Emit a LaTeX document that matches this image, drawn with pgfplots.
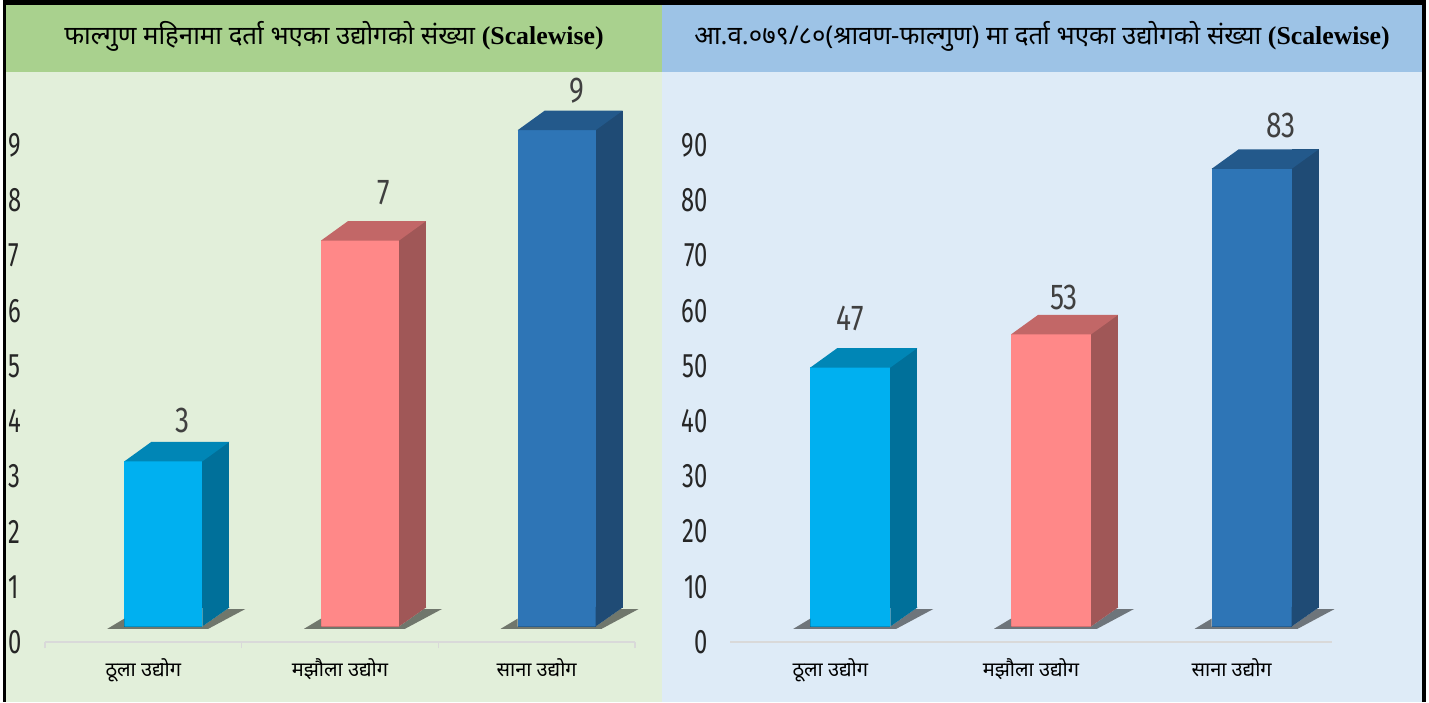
\documentclass[border=0pt]{standalone}
\usepackage{fontspec}
\usepackage{pgfplots}
\usepackage{pgfplotstable}
\pgfplotsset{compat=1.18}
\newfontfamily\devfont[Script=Devanagari]{Noto Sans}
\newfontfamily\latfont{Liberation Serif}
\newfontfamily\numfont[FakeStretch=0.7]{Fira Sans}
\newfontfamily\labfont[FakeStretch=0.78]{Fira Sans}
\definecolor{lbg}{HTML}{E2EFDA}
\definecolor{ltit}{HTML}{A9D18E}
\definecolor{rbg}{HTML}{DEEBF7}
\definecolor{rtit}{HTML}{9DC3E6}
\definecolor{axgray}{HTML}{D9D9D9}
\definecolor{tickc}{HTML}{262626}
\definecolor{labc}{HTML}{404040}
\definecolor{cAf}{HTML}{00B0F0}
\definecolor{cAs}{HTML}{00709A}
\definecolor{cAt}{HTML}{0086B6}
\definecolor{cBf}{HTML}{FF8888}
\definecolor{cBs}{HTML}{A05757}
\definecolor{cBt}{HTML}{C26767}
\definecolor{cCf}{HTML}{2E75B6}
\definecolor{cCs}{HTML}{1F4B75}
\definecolor{cCt}{HTML}{23598B}

\pgfplotstableread{
x v
0 3
1 7
2 9
}\leftdata
\pgfplotstableread{
x v
0 47
1 53
2 83
}\rightdata

\def\ba{-9.5}\def\br{29.5}
\pgfdeclareplotmark{topmk}{%
 \pgfpathmoveto{\pgfpoint{\ba pt}{7.5pt}}%
 \pgfpathlineto{\pgfpoint{\br pt}{7.5pt}}%
 \pgfpathlineto{\pgfpoint{\br pt+13.5pt}{17.25pt}}%
 \pgfpathlineto{\pgfpoint{\ba pt+13.5pt}{17.25pt}}%
 \pgfpathclose\pgfusepathqfill}
\pgfdeclareplotmark{sidemk}{%
 \pgfpathmoveto{\pgfpoint{\br pt}{7.75pt}}%
 \pgfpathlineto{\pgfpoint{\br pt+13.5pt}{17.25pt}}%
 \pgfpathlineto{\pgfpoint{\br pt+13.5pt}{17.6pt}}%
 \pgfpathlineto{\pgfpoint{\br pt}{17.6pt}}%
 \pgfpathclose\pgfusepathqfill}
\pgfdeclareplotmark{shadowmk}{%
 \pgfpathmoveto{\pgfpoint{\ba pt-8.5pt}{6.6pt}}%
 \pgfpathlineto{\pgfpoint{\br pt+3pt}{6.6pt}}%
 \pgfpathlineto{\pgfpoint{\br pt+21.5pt}{16.5pt}}%
 \pgfpathlineto{\pgfpoint{\br pt+12.4pt}{16.5pt}}%
 \pgfpathlineto{\pgfpoint{\br pt}{7.75pt}}%
 \pgfpathlineto{\pgfpoint{\ba pt}{7.75pt}}%
 \pgfpathlineto{\pgfpoint{\ba pt}{11.7pt}}%
 \pgfpathclose\pgfusepathqfill}

% #1 table, #2 domain, #3 front, #4 side, #5 top, #6 label xshift, #7 label yshift, #8 bar width, #9 side shift
\newcommand\cuboid[9]{%
\addplot[only marks, mark=shadowmk, restrict x to domain=#2, mark options={fill=black, fill opacity=0.5, draw=none}] table[x=x, y expr=0] {#1};
\addplot[ybar, bar width=13.5pt, bar shift=#9, yshift=17.25pt, restrict x to domain=#2, fill=#4, draw=none] table[x=x, y=v] {#1};
\addplot[only marks, mark=sidemk, restrict x to domain=#2, mark options={fill=#4, draw=none}] table[x=x, y expr=0] {#1};
\addplot[only marks, mark=topmk, restrict x to domain=#2, mark options={fill=#5, draw=none}] table[x=x, y=v] {#1};
\addplot[ybar, bar width=#8, bar shift=10pt, yshift=7.75pt, restrict x to domain=#2, fill=#3, draw=none,
  nodes near coords, every node near coord/.append style={font=\labfont\fontsize{18}{20}\selectfont, text=labc, anchor=south, inner sep=0pt, xshift=#6, yshift=#7}] table[x=x, y=v] {#1};
}

\pgfplotsset{cub/.style={
  scale only axis, anchor=south west, height=276pt,
  xmin=-0.5, xmax=2.5, ymin=0, clip=false,
  axis x line*=bottom, axis y line*=left,
  y axis line style={draw=none},
  x axis line style={draw=axgray, line width=0.8pt},
  xtick={0,1,2},
  xticklabels={ठूला उद्योग, मझौला उद्योग, साना उद्योग},
  xtick style={draw=none}, ytick style={draw=none},
  xticklabel style={font=\devfont\fontsize{10}{12}\selectfont, text=black, anchor=base, yshift=-17pt},
  /pgf/number format/assume math mode=true,
  yticklabel style={font=\numfont\fontsize{17}{19}\selectfont, text=tickc, inner sep=0pt},
}}

\begin{document}
\begin{tikzpicture}
\fill[white] (0pt,0pt) rectangle (714.5pt,351pt);
\fill[lbg] (3pt,0pt) rectangle (331pt,349pt);
\fill[ltit] (3pt,315pt) rectangle (331pt,349pt);
\fill[rbg] (331pt,0pt) rectangle (711pt,349pt);
\fill[rtit] (331pt,315pt) rectangle (711pt,349pt);
\fill[black] (1.5pt,0pt) rectangle (3pt,351pt);
\fill[black] (1.5pt,348.5pt) rectangle (713pt,351pt);
\fill[black] (711pt,0pt) rectangle (713pt,351pt);

\node[font=\devfont\bfseries\fontsize{12.9}{15}\selectfont] at (167pt,333pt) {फाल्गुण महिनामा दर्ता भएका उद्योगको संख्या {\latfont\bfseries (Scalewise)}};
\node[font=\devfont\bfseries\fontsize{12.9}{15}\selectfont] at (521pt,333pt) {आ.व.०७९/८०(श्रावण-फाल्गुण) मा दर्ता भएका उद्योगको संख्या {\latfont\bfseries (Scalewise)}};

\begin{axis}[cub, at={(22.5pt,30pt)}, width=295pt, ymax=10, ytick={0,...,9},
  yticklabel style={anchor=west, xshift=-18.5pt},
  extra x ticks={-0.5,0.5,1.5,2.5}, extra x tick labels={},
  extra x tick style={xtick style={draw=axgray, line width=0.8pt}, tick align=outside, major tick length=3pt}]
\cuboid{\leftdata}{-0.2:0.2}{cAf}{cAs}{cAt}{19.5pt}{14pt}{39pt}{36.25pt}
\cuboid{\leftdata}{0.8:1.2}{cBf}{cBs}{cBt}{22pt}{17.5pt}{39pt}{36.25pt}
\cuboid{\leftdata}{1.8:2.2}{cCf}{cCs}{cCt}{20pt}{13pt}{39pt}{36.25pt}
\end{axis}

\def\ba{-10}\def\br{30}
\begin{axis}[cub, at={(365pt,30pt)}, width=301pt, ymax=100, ytick={0,10,...,90},
  yticklabel style={anchor=east, xshift=-11pt}]
\cuboid{\rightdata}{-0.2:0.2}{cAf}{cAs}{cAt}{10pt}{18pt}{40pt}{36.75pt}
\cuboid{\rightdata}{0.8:1.2}{cBf}{cBs}{cBt}{16.5pt}{12pt}{40pt}{36.75pt}
\cuboid{\rightdata}{1.8:2.2}{cCf}{cCs}{cCt}{24.75pt}{15pt}{40pt}{36.75pt}
\end{axis}
\end{tikzpicture}
\end{document}
